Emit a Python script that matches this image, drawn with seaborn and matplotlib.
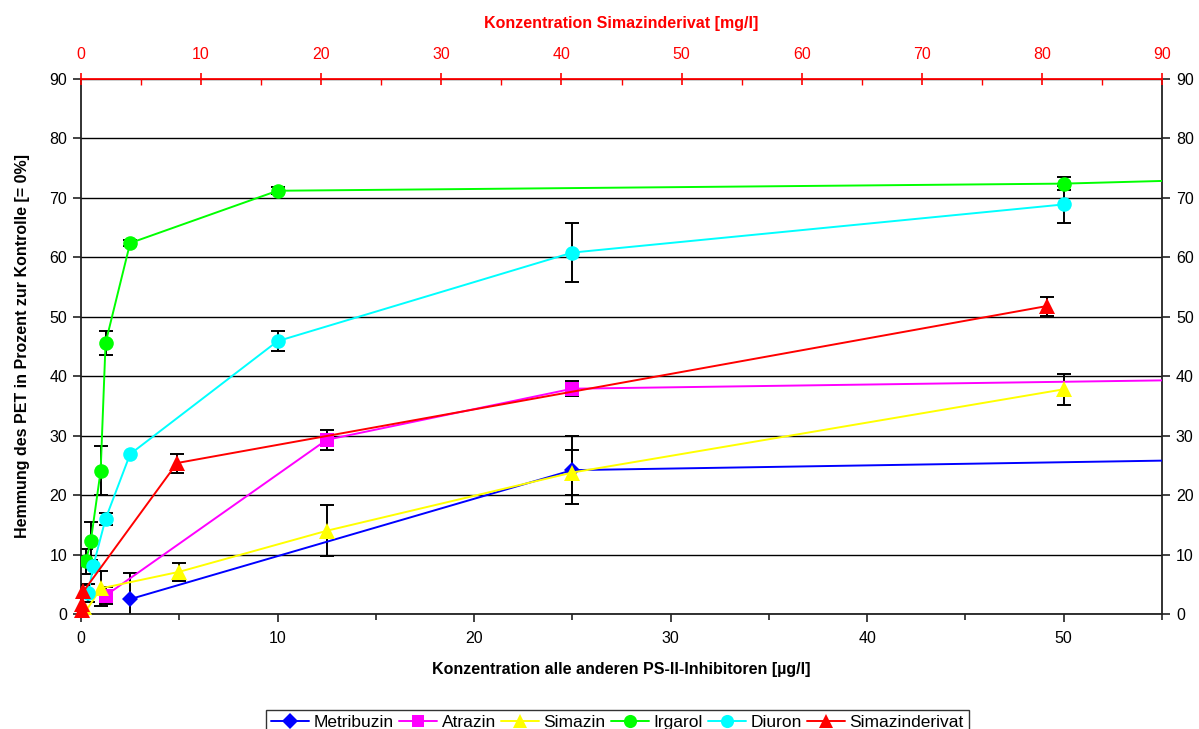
import numpy as np
import pandas as pd
import matplotlib
matplotlib.use("Agg")
import matplotlib.pyplot as plt
from matplotlib.lines import Line2D
from matplotlib.ticker import MultipleLocator
import seaborn as sns

# Concentrations of the PS-II inhibitors [µg/l] and inhibition of PET [%]
metribuzin_x = [2.5, 25, 100]
metribuzin_y = [2.5, 24.2, 28.2]
metribuzin_err = [4.4, 5.7, np.nan]

atrazin_x = [1.25, 12.5, 25, 100]
atrazin_y = [3.1, 29.3, 37.9, 41.4]
atrazin_err = [1.4, 1.7, 1.25, np.nan]

simazin_x = [0.25, 1.0, 5, 12.5, 25, 50]
simazin_y = [0.5, 4.3, 7.1, 14.0, 23.8, 37.8]
simazin_err = [np.nan, 2.9, 1.5, 4.3, 3.8, 2.6]

irgarol_x = [0.25, 0.5, 1.0, 1.25, 2.5, 10, 50, 100]
irgarol_y = [8.9, 12.3, 24.1, 45.6, 62.4, 71.2, 72.4, 76.9]
irgarol_err = [2.1, 3.2, 4.1, 2.0, 0.5, 0.6, 1.1, np.nan]

diuron_x = [0.375, 0.625, 1.25, 2.5, 10, 25, 50]
diuron_y = [3.5, 8.1, 16.0, 26.9, 45.9, 60.8, 68.9]
diuron_err = [1.5, np.nan, 1.0, np.nan, 1.7, 4.9, 3.1]

# Simazine derivative, concentration in mg/l (top axis)
derivat_x = [0.05, 0.1, 0.2, 8.0, 80.4]
derivat_y = [0.6, 1.6, 3.8, 25.4, 51.8]
derivat_err = [np.nan, np.nan, 1.1, 1.6, 1.6]

series_names = ["Metribuzin", "Atrazin", "Simazin", "Irgarol", "Diuron", "Simazinderivat"]
colors = ["#0000FF", "#FF00FF", "#FFFF00", "#00FF00", "#00FFFF", "#FF0000"]
markers = ["D", "s", "^", "o", "o", "^"]
msizes = [8.5, 9.5, 11, 10.5, 10.5, 11]

y_ticks = list(range(0, 100, 10))

bottom = pd.concat([
    pd.DataFrame({"x": metribuzin_x, "y": metribuzin_y, "err": metribuzin_err, "Substanz": "Metribuzin"}),
    pd.DataFrame({"x": atrazin_x, "y": atrazin_y, "err": atrazin_err, "Substanz": "Atrazin"}),
    pd.DataFrame({"x": simazin_x, "y": simazin_y, "err": simazin_err, "Substanz": "Simazin"}),
    pd.DataFrame({"x": irgarol_x, "y": irgarol_y, "err": irgarol_err, "Substanz": "Irgarol"}),
    pd.DataFrame({"x": diuron_x, "y": diuron_y, "err": diuron_err, "Substanz": "Diuron"}),
], ignore_index=True)
top = pd.DataFrame({"x": derivat_x, "y": derivat_y, "err": derivat_err, "Substanz": "Simazinderivat"})

sns.set_style("white")
plt.rcParams["font.family"] = ["Liberation Sans", "DejaVu Sans"]
plt.rcParams["text.color"] = "black"
plt.rcParams["axes.labelcolor"] = "black"
plt.rcParams["xtick.color"] = "black"
plt.rcParams["ytick.color"] = "black"

fig = plt.figure(figsize=(11.99, 7.29), dpi=100)
ax = fig.add_axes([81 / 1199, 1 - 614 / 729, (1162 - 81) / 1199, (614 - 79) / 729])

# error bars first, lines and markers on top
for name, g in bottom.groupby("Substanz", sort=False):
    ax.errorbar(g["x"], g["y"], yerr=g["err"], fmt="none", ecolor="black",
                elinewidth=1.4, capsize=5, capthick=1.4, zorder=2)

for name in series_names[:-1]:
    g = bottom[bottom["Substanz"] == name]
    i = series_names.index(name)
    sns.lineplot(data=g, x="x", y="y", color=colors[i], marker=markers[i],
                 markersize=msizes[i], markeredgewidth=0, linewidth=1.4,
                 ax=ax, sort=False, zorder=3, legend=False)

ax.set_xlim(0, 55)
ax.set_ylim(0, 90)
ax.set_yticks(y_ticks)
ax.xaxis.set_major_locator(MultipleLocator(10))
ax.xaxis.set_minor_locator(MultipleLocator(5))
ax.yaxis.grid(True, color="black", linewidth=1.0)
ax.set_axisbelow(True)

ax.tick_params(axis="x", which="major", direction="out", length=6, width=1.2,
               color="#222222", labelsize=11.5, pad=6, bottom=True)
ax.tick_params(axis="x", which="minor", direction="out", length=4, width=1.2,
               color="#222222", bottom=True)
ax.tick_params(axis="y", which="major", direction="out", length=6, width=1.2,
               color="#222222", labelsize=11.5, left=True, right=True,
               labelleft=True, labelright=True, pad=4)

for side in ["left", "right", "bottom"]:
    ax.spines[side].set_color("#222222")
    ax.spines[side].set_linewidth(1.3)
ax.spines["top"].set_visible(False)

ax.set_xlabel("Konzentration alle anderen PS-II-Inhibitoren [µg/l]",
              fontsize=11.5, fontweight="bold", labelpad=12, color="black")
ax.set_ylabel("Hemmung des PET in Prozent zur Kontrolle [= 0%]",
              fontsize=11.5, fontweight="bold", labelpad=14, color="black")

# top axis for the simazine derivative in mg/l
ax_top = ax.twiny()
ax_top.errorbar(top["x"], top["y"], yerr=top["err"], fmt="none", ecolor="black",
                elinewidth=1.4, capsize=5, capthick=1.4, zorder=2)
sns.lineplot(data=top, x="x", y="y", color=colors[-1], marker=markers[-1],
             markersize=msizes[-1], markeredgewidth=0, linewidth=1.4,
             ax=ax_top, sort=False, zorder=3, legend=False, clip_on=False)
ax_top.set_xlim(0, 90)
ax_top.set_ylim(0, 90)
ax_top.xaxis.set_major_locator(MultipleLocator(10))
ax_top.xaxis.set_minor_locator(MultipleLocator(5))
ax_top.tick_params(axis="x", which="major", direction="inout", length=8, width=1.2,
                   color="#FF0000", labelcolor="#FF0000", labelsize=11.5, pad=8)
ax_top.tick_params(axis="x", which="minor", direction="in", length=4, width=1.0,
                   color="#FF0000")
for side in ["left", "right", "bottom"]:
    ax_top.spines[side].set_visible(False)
ax_top.spines["top"].set_color("#FF0000")
ax_top.spines["top"].set_linewidth(1.3)
ax_top.set_xlabel("Konzentration Simazinderivat [mg/l]", fontsize=11.5,
                  fontweight="bold", color="#FF0000", labelpad=14)
ax_top.set_ylabel("")

handles = [Line2D([], [], color=c, marker=m, markersize=s * 0.9, markeredgewidth=0,
                  linewidth=1.4, label=n)
           for n, c, m, s in zip(series_names, colors, markers, msizes)]
leg = fig.legend(handles=handles, loc="upper center", bbox_to_anchor=(0.515, 1 - 710 / 729),
                 ncol=6, frameon=True, fancybox=False, edgecolor="black", fontsize=12.5,
                 handlelength=2.2, handletextpad=0.25, columnspacing=0.3,
                 borderpad=0.3, borderaxespad=0)
leg.get_frame().set_linewidth(1.0)

fig.savefig("out.png", dpi=100)
